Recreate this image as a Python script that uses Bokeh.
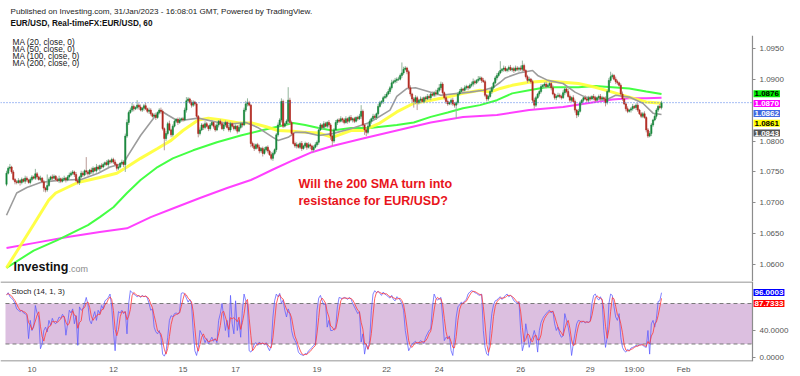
import numpy as np
import pandas as pd
from bokeh.plotting import figure
from bokeh.layouts import column
from bokeh.models import (ColumnDataSource, Range1d, LinearAxis, FixedTicker,
                          PrintfTickFormatter, Label, BoxAnnotation)
from bokeh.embed import file_html
from bokeh.resources import INLINE
from bokeh.core.properties import value

# ---------------- DATA ----------------
BASE = 1.0700            # price levels below are pips above this base
first_open_pips = 30

# hourly closes (pips above 1.0700), one list per trading session
close_pips_by_day = [
    [48, 56, 58, 50, 38, 34, 33, 36, 33, 38, 35, 40, 37, 33, 38],                                   # Jan 9
    [42, 40, 47, 42, 38, 40, 34, 24, 21, 28, 38, 42, 40, 43, 38, 36, 39, 35, 38, 40, 37, 42, 45, 48],  # Jan 10
    [50, 46, 36, 33, 42, 48, 45, 52, 50, 47, 53, 50, 56, 52, 58, 55, 60, 58, 62, 65, 62, 68, 66, 70],  # Jan 11
    [66, 62, 56, 58, 64, 66, 62, 108, 130, 146, 150, 156, 152, 154, 158, 155, 150, 153, 157, 152, 148, 150, 144, 140],  # Jan 12
    [142, 138, 146, 150, 148, 120, 104, 112, 128, 118, 110, 124, 132, 135, 130, 134, 136],          # Jan 13
    [134, 150, 165, 168, 162, 158, 163],                                                            # Jan 15
    [160, 140, 112, 118, 126, 122, 128, 124, 120, 126, 130, 124, 118, 126, 132, 128, 120, 126, 130, 122, 118, 128, 124, 120],  # Jan 16
    [124, 116, 122, 128, 126, 150, 160, 162, 158, 96, 92, 88, 94, 90, 84, 88, 80, 86, 90, 84, 78, 72, 80, 86],  # Jan 17
    [110, 126, 134, 164, 124, 128, 132, 166, 130, 112, 96, 92, 94, 90, 96, 88, 92, 96, 90, 94, 92, 86, 90, 94],  # Jan 18
    [98, 118, 126, 122, 128, 124, 130, 126, 108, 100, 118, 130, 134, 132, 136, 134, 130, 136, 132, 138, 134, 136, 132, 138],  # Jan 19
    [136, 140, 148, 126, 118, 114, 124, 132, 136, 140, 138, 144, 156, 162, 164, 170, 172],          # Jan 20
    [176, 180, 186, 194, 196, 198, 200],                                                            # Jan 22
    [200, 206, 210, 216, 218, 212, 186, 176, 168, 164, 170, 162, 166, 168, 164, 170, 168, 172, 170, 176, 174, 178, 176, 182],  # Jan 23
    [186, 192, 178, 170, 164, 160, 162, 166, 160, 158, 162, 176, 180, 184, 182, 186, 188, 186, 190, 192, 196, 194, 198, 200],  # Jan 24
    [202, 198, 196, 174, 168, 172, 180, 186, 194, 202, 206, 210, 214, 216, 218, 214, 216, 219, 215, 217, 214, 218, 216, 218],  # Jan 25
    [216, 222, 214, 204, 198, 200, 196, 166, 158, 170, 176, 180, 188, 190, 192, 188, 190, 193, 186, 176, 170, 172, 174, 172],  # Jan 26
    [170, 178, 184, 180, 172, 166, 170, 164, 150, 142, 148, 162, 166, 170, 168, 166, 170],          # Jan 27
    [168, 172, 170, 166, 170, 172, 168],                                                            # Jan 29
    [170, 168, 162, 180, 198, 204, 206, 200, 196, 194, 190, 176, 168, 160, 152, 148, 150, 152, 156, 154, 158, 150, 144, 140],  # Jan 30
    [144, 138, 118, 108, 112, 126, 134, 140, 150, 156, 154, 162],                                   # Jan 31
]

# upper / lower wick lengths in pips
wick_up_by_day = [
    [4, 3, 5, 2, 3, 2, 3, 4, 2, 3, 2, 4, 3, 2, 3],
    [3, 2, 8, 3, 2, 4, 2, 3, 2, 18, 3, 2, 4, 3, 2, 3, 5, 2, 3, 4, 2, 3, 4, 3],
    [3, 2, 4, 3, 2, 4, 3, 2, 22, 3, 2, 4, 3, 2, 5, 3, 2, 4, 3, 2, 4, 3, 2, 3],
    [3, 4, 2, 3, 2, 4, 3, 4, 5, 3, 4, 6, 3, 2, 8, 3, 4, 2, 3, 5, 2, 4, 3, 2],
    [3, 4, 2, 3, 4, 3, 2, 4, 3, 5, 2, 3, 4, 2, 3, 4, 2],
    [3, 4, 6, 3, 2, 4, 3],
    [2, 3, 2, 4, 3, 2, 4, 3, 2, 3, 4, 2, 3, 4, 2, 3, 4, 2, 3, 2, 4, 3, 2, 3],
    [3, 2, 4, 3, 2, 4, 5, 7, 3, 2, 3, 4, 2, 3, 4, 2, 3, 4, 2, 3, 2, 4, 3, 2],
    [3, 4, 3, 5, 3, 2, 3, 21, 4, 3, 2, 3, 4, 2, 3, 4, 2, 3, 2, 4, 3, 2, 3, 4],
    [3, 4, 3, 2, 4, 3, 2, 4, 3, 2, 3, 4, 2, 3, 4, 2, 3, 4, 2, 3, 4, 2, 3, 2],
    [3, 4, 10, 3, 2, 3, 4, 3, 2, 4, 3, 2, 4, 3, 2, 3, 4],
    [3, 4, 3, 5, 3, 4, 3],
    [4, 3, 17, 4, 3, 2, 3, 4, 2, 3, 4, 3, 2, 4, 3, 2, 3, 4, 3, 2, 4, 3, 5, 4],
    [6, 4, 3, 2, 4, 3, 2, 3, 4, 3, 2, 3, 4, 3, 2, 4, 3, 2, 3, 4, 5, 3, 2, 5],
    [3, 2, 4, 3, 2, 3, 4, 3, 2, 3, 4, 3, 15, 2, 4, 3, 2, 3, 4, 2, 3, 4, 3, 2],
    [4, 8, 3, 2, 3, 4, 2, 3, 4, 3, 2, 3, 4, 2, 3, 4, 3, 2, 3, 4, 2, 3, 4, 3],
    [3, 4, 2, 3, 4, 3, 2, 4, 3, 2, 4, 3, 2, 3, 4, 2, 3],
    [3, 2, 4, 3, 2, 3, 4],
    [3, 2, 4, 3, 4, 8, 3, 2, 4, 3, 2, 3, 4, 2, 3, 4, 2, 3, 4, 2, 3, 4, 2, 3],
    [3, 4, 2, 3, 4, 3, 2, 4, 3, 2, 4, 3],
]
wick_dn_by_day = [
    [3, 2, 4, 3, 2, 4, 3, 2, 5, 3, 2, 4, 3, 2, 3],
    [3, 2, 3, 4, 2, 3, 2, 6, 4, 3, 2, 3, 4, 2, 3, 2, 4, 3, 2, 3, 4, 2, 3, 2],
    [3, 4, 2, 3, 4, 2, 3, 2, 4, 3, 2, 3, 4, 2, 3, 2, 4, 3, 2, 3, 2, 4, 3, 2],
    [3, 2, 4, 3, 2, 3, 4, 12, 3, 4, 2, 3, 4, 2, 3, 4, 2, 3, 4, 2, 3, 4, 3, 2],
    [3, 4, 2, 3, 4, 3, 19, 4, 3, 2, 4, 3, 2, 3, 4, 2, 3],
    [3, 2, 4, 3, 2, 4, 3],
    [3, 4, 6, 3, 2, 4, 3, 2, 4, 3, 2, 4, 3, 2, 4, 3, 2, 4, 3, 2, 3, 4, 2, 3],
    [3, 4, 2, 3, 4, 2, 3, 4, 2, 6, 3, 4, 2, 3, 4, 3, 5, 2, 3, 4, 2, 3, 4, 3],
    [4, 3, 2, 4, 3, 2, 3, 4, 3, 4, 2, 3, 4, 2, 3, 4, 2, 3, 4, 2, 5, 3, 4, 2],
    [3, 4, 2, 3, 4, 2, 3, 4, 6, 8, 3, 2, 4, 3, 2, 4, 3, 2, 4, 3, 2, 4, 3, 2],
    [3, 2, 4, 3, 8, 6, 3, 2, 4, 3, 2, 4, 3, 2, 3, 4, 2],
    [3, 2, 4, 3, 2, 3, 4],
    [3, 2, 4, 3, 2, 4, 3, 4, 5, 10, 4, 12, 3, 4, 2, 3, 4, 2, 3, 4, 2, 3, 4, 2],
    [3, 4, 5, 3, 4, 3, 2, 4, 3, 4, 22, 3, 2, 4, 3, 2, 3, 4, 2, 3, 4, 3, 2, 3],
    [3, 4, 2, 3, 4, 3, 2, 4, 3, 2, 4, 3, 2, 3, 4, 2, 3, 4, 2, 3, 4, 2, 3, 4],
    [3, 4, 2, 3, 4, 2, 3, 4, 6, 3, 2, 4, 3, 2, 4, 3, 2, 3, 4, 2, 3, 4, 2, 3],
    [3, 2, 4, 3, 2, 4, 3, 2, 4, 5, 3, 2, 4, 3, 2, 3, 4],
    [3, 2, 4, 3, 2, 3, 4],
    [3, 2, 6, 3, 2, 4, 3, 2, 4, 3, 2, 4, 3, 2, 4, 3, 2, 4, 3, 2, 4, 3, 2, 3],
    [3, 2, 4, 3, 2, 4, 3, 2, 4, 3, 2, 3],
]

# Stochastic %K (14, 1, 3), per hourly bar
stoch_k_by_day = [
    [93, 96, 90, 88, 85, 80, 72, 70, 68, 70, 66, 65, 62, 28, 55],
    [40, 45, 77, 66, 60, 13, 20, 40, 45, 38, 55, 48, 58, 52, 50, 54, 60, 58, 64, 60, 33, 50, 70, 66],
    [72, 50, 62, 18, 75, 70, 72, 80, 89, 78, 55, 50, 60, 68, 55, 70, 65, 77, 72, 84, 86, 89, 94, 75],
    [40, 10, 47, 68, 66, 70, 65, 68, 35, 80, 99, 96, 94, 92, 90, 92, 89, 92, 90, 91, 88, 80, 70, 72],
    [45, 38, 35, 40, 30, 5, 2, 8, 30, 55, 62, 60, 65, 66, 64, 68, 95],
    [96, 94, 88, 82, 86, 80, 40],
    [10, 3, 15, 40, 35, 30, 22, 28, 20, 25, 30, 24, 28, 22, 55, 65, 80, 60, 40, 55, 30, 92, 50, 35],
    [84, 40, 55, 30, 70, 94, 84, 80, 10, 8, 12, 20, 22, 18, 23, 20, 21, 19, 22, 15, 10, 18, 60, 84],
    [94, 90, 95, 80, 85, 70, 60, 72, 65, 40, 30, 25, 20, 8, 5, 4, 3, 6, 5, 10, 12, 15, 18, 20],
    [70, 88, 92, 84, 78, 80, 45, 55, 40, 40, 42, 45, 75, 89, 88, 87, 89, 88, 86, 89, 87, 80, 75, 70],
    [65, 68, 23, 35, 5, 20, 12, 25, 70, 94, 99, 96, 98, 95, 92, 97, 94],
    [92, 90, 88, 92, 86, 84, 90],
    [88, 85, 80, 70, 40, 25, 10, 15, 20, 22, 24, 20, 22, 25, 23, 21, 30, 35, 40, 42, 75, 94, 88, 85],
    [87, 89, 60, 25, 30, 28, 32, 10, 3, 30, 60, 75, 78, 82, 80, 84, 86, 94, 97, 99, 98, 96, 95, 93],
    [92, 94, 40, 15, 5, 3, 40, 65, 78, 84, 85, 88, 90, 86, 89, 92, 94, 90, 92, 89, 84, 82, 80, 83],
    [40, 10, 20, 50, 35, 15, 25, 30, 40, 30, 8, 40, 52, 58, 62, 65, 68, 70, 66, 69, 50, 40, 45, 35],
    [30, 32, 65, 55, 45, 30, 3, 20, 35, 50, 55, 54, 52, 54, 51, 53, 52],
    [55, 80, 92, 94, 88, 85, 90],
    [84, 40, 15, 30, 80, 94, 92, 75, 60, 55, 65, 30, 15, 10, 8, 12, 10, 14, 15, 16, 18, 17, 19, 20],
    [18, 16, 15, 40, 5, 50, 55, 45, 58, 83, 84, 96],
]

# moving averages: (bar index, pips above 1.0700)
ma20_bars = [0, 6, 12, 20, 29, 36, 44, 54, 61, 69, 71, 79, 87, 91, 95, 100, 105, 113, 125, 133,
             141, 148, 157, 160, 166, 170, 176, 184, 192, 203, 214, 226, 230, 236, 241, 250, 256, 266, 273, 281,
             287, 291, 294, 302, 310, 313, 319, 328, 335, 341, 347, 353, 359, 367, 375, 381, 386]
ma20_pips = [-20, 16, 25, 33, 36, 37, 38, 48, 58, 64, 74, 109, 138, 149, 142, 134, 134, 137, 130, 128,
             130, 122, 106, 101, 106, 114, 114, 109, 112, 120, 130, 150, 172, 185, 186, 179, 174, 177, 179, 182,
             187, 195, 202, 210, 214, 206, 198, 193, 179, 171, 169, 166, 174, 171, 161, 145, 143]
ma50_bars = [0, 8, 16, 25, 29, 42, 55, 65, 71, 79, 89, 97, 104, 113, 119, 127, 137, 145, 153, 160,
             169, 176, 184, 192, 203, 210, 220, 230, 240, 250, 260, 269, 279, 285, 291, 298, 308, 318, 328, 337,
             347, 357, 367, 377, 386]
ma50_pips = [-105, -70, -35, 5, 16, 33, 41, 48, 58, 72, 88, 101, 117, 134, 137, 134, 129, 129, 123, 117,
             116, 114, 113, 106, 117, 117, 129, 147, 161, 166, 171, 177, 182, 179, 185, 190, 195, 197, 195, 193,
             187, 179, 171, 163, 161]
ma100_bars = [0, 16, 30, 36, 48, 55, 63, 71, 79, 89, 98, 110, 124, 138, 150, 169, 176, 184, 192, 203,
              214, 230, 240, 250, 260, 269, 279, 289, 298, 308, 318, 337, 347, 357, 367, 377, 386]
ma100_pips = [-105, -77, -60, -52, -36, -23, -7, 16, 37, 58, 72, 85, 98, 109, 117, 129, 126, 121, 117, 121,
              121, 126, 130, 139, 146, 153, 158, 166, 177, 182, 187, 187, 189, 187, 185, 180, 176]
ma200_bars = [0, 16, 36, 55, 71, 85, 98, 114, 130, 144, 157, 169, 180, 192, 210, 230, 250, 269, 289, 308,
              328, 347, 357, 367, 377, 386]
ma200_pips = [-73, -65, -55, -47, -41, -23, -9, 8, 24, 37, 54, 69, 82, 92, 104, 117, 130, 139, 142, 150,
              155, 163, 167, 169, 169, 170]

last_price = 1.0862
price_ticks = [1.0600, 1.0650, 1.0700, 1.0750, 1.0800, 1.0900, 1.0950]
price_badge_texts = ["1.0876", "1.0870", "1.0862", "1.0861", "1.0843"]
stoch_ticks = [0, 40]
stoch_band = [20, 80]
stoch_badge_texts = ["96.0003", "87.7333"]
date_tick_bars = [15, 63, 104, 135, 183, 224, 255, 303, 344, 370, 399]
date_tick_labels = ["10", "12", "15", "17", "19", "22", "24", "26", "29", "19:00", "Feb"]

header_line1 = "Published on Investing.com, 31/Jan/2023 - 16:08:01 GMT, Powered by TradingView."
header_line2 = "EUR/USD, Real-timeFX:EUR/USD, 60"
ma_legend = ["MA (20, close, 0)", "MA (50, close, 0)", "MA (100, close, 0)", "MA (200, close, 0)"]
note_lines = ["Will the 200 SMA turn into", "resistance for EUR/USD?"]
stoch_title = "Stoch (14, 1, 3)"

# ---------------- BUILD ----------------
for a, b, c, d in zip(close_pips_by_day, wick_up_by_day, wick_dn_by_day, stoch_k_by_day):
    assert len(a) == len(b) == len(c) == len(d), (len(a), len(b), len(c), len(d))

close_p = np.concatenate([np.array(d, float) for d in close_pips_by_day])
wup = np.concatenate([np.array(d, float) for d in wick_up_by_day])
wdn = np.concatenate([np.array(d, float) for d in wick_dn_by_day])
stoch_k = np.concatenate([np.array(d, float) for d in stoch_k_by_day])
open_p = np.concatenate([[first_open_pips], close_p[:-1]])
n = len(close_p)
idx = np.arange(n)

pip = 1e-4
opens = BASE + open_p * pip
closes = BASE + close_p * pip
highs = BASE + (np.maximum(open_p, close_p) + wup) * pip
lows = BASE + (np.minimum(open_p, close_p) - wdn) * pip
up = closes >= opens
UP_COL, DN_COL = "#16873a", "#b3261e"
src = ColumnDataSource(dict(
    x=idx, top=np.maximum(opens, closes), bottom=np.minimum(opens, closes),
    high=highs, low=lows,
    color=[UP_COL if u else DN_COL for u in up],
    wick=["#93b49b" if u else "#b99a96" for u in up],
))

stoch_d = pd.Series(stoch_k).rolling(3, min_periods=1).mean().to_numpy()

FONT = "Liberation Sans"
X0, X1 = -3.54, 467.9          # full 800 px canvas width in bar units
AXIS_X = 439.6                 # bar position of the right price axis
xr = Range1d(X0, X1)

P_LO, P_HI = 1.05730, 1.10271
S_LO, S_HI = -5.93, 112.6

# ---- price pane ----
p = figure(frame_width=800, frame_height=281, x_range=xr, y_range=Range1d(P_LO, P_HI),
           output_backend="svg", toolbar_location=None, min_border=0,
           x_axis_location=None, y_axis_location=None)
p.outline_line_color = None
p.xgrid.visible = False
p.ygrid.visible = False

def axis_style(ax):
    ax.axis_line_color = "#8c8c8c"
    ax.axis_line_width = 1.2
    ax.major_tick_line_color = "#8c8c8c"
    ax.minor_tick_line_color = None
    ax.major_tick_in = 0
    ax.major_tick_out = 3
    ax.major_label_text_font = FONT
    ax.major_label_text_font_size = "8px"
    ax.major_label_text_color = "#555555"
    ax.major_label_standoff = 4

yax = LinearAxis(ticker=FixedTicker(ticks=price_ticks), formatter=PrintfTickFormatter(format="%.4f"),
                 fixed_location=AXIS_X)
axis_style(yax)
yax.axis_line_color = None
p.add_layout(yax, "right")
p.segment(x0=[AXIS_X], y0=[1.0970], x1=[AXIS_X], y1=[P_LO], line_color="#8c8c8c", line_width=1.2)

def ma_y(pips):
    return [BASE + v * pip for v in pips]

p.line(ma200_bars, ma_y(ma200_pips), line_color="#ff40ff", line_width=2)
p.line(ma100_bars, ma_y(ma100_pips), line_color="#44ff44", line_width=2)
p.line(ma50_bars, ma_y(ma50_pips), line_color="#ffff33", line_width=3, line_alpha=0.9)
p.line(ma20_bars, ma_y(ma20_pips), line_color="#9c9c9c", line_width=1.6)

p.segment(x0="x", y0="low", x1="x", y1="high", source=src, line_color="wick", line_width=1)
p.vbar(x="x", width=0.72, top="top", bottom="bottom", source=src,
       fill_color="color", line_color="color", line_width=0.6)

p.segment(x0=[X0], y0=[last_price], x1=[AXIS_X], y1=[last_price], line_color="#4a7bea",
          line_dash="1 2", line_width=1)

def lab(fig, x, y, t, size, color="#222222", style="normal", **kw):
    fig.add_layout(Label(x=x, y=y, x_units="screen", y_units="screen", text=t, text_font=FONT,
                         text_font_size=size, text_font_style=style, text_color=color, **kw))

# header texts (screen y measured from bottom of the 281 px price pane)
lab(p, 10, 266, header_line1, "8.1px")
lab(p, 10, 254, header_line2, "8.2px", "#111111", "bold")
for i, t in enumerate(ma_legend):
    lab(p, 12, 235 - 7 * i, t, "8.3px")

for i, t in enumerate(note_lines):
    lab(p, 298, 91 - 17 * i, t, "12.5px", "#e8141b", "bold")

lab(p, 13, 8, "Investing", "12.5px", "#111111", "bold")
lab(p, 68, 8, ".com", "9px", "#8a8a8a")

badge_styles = [("#00ee00", "#000000"), ("#ff00ff", "#ffffff"), ("#4169e1", "#ffffff"),
                ("#ffff00", "#000000"), ("#555555", "#ffffff")]
for i, (t, (bg, fg)) in enumerate(zip(price_badge_texts, badge_styles)):
    lab(p, 753, 187.7 - 9.8 * i, t, "8px", fg, "bold", text_baseline="middle",
        background_fill_color=bg, padding=1)

# ---- stochastic pane ----
s = figure(frame_width=800, frame_height=80, x_range=xr, y_range=Range1d(S_LO, S_HI),
           output_backend="svg", toolbar_location=None, min_border=0, min_border_bottom=15,
           x_axis_location=None, y_axis_location=None)
s.outline_line_color = None
s.xgrid.visible = False
s.ygrid.visible = False

s.add_layout(BoxAnnotation(bottom=stoch_band[0], top=stoch_band[1], left=-0.6, right=AXIS_X,
                           fill_color="#dcbfe0", fill_alpha=1.0, line_color=None, level="underlay"))
s.segment(x0=[-0.6, -0.6], y0=stoch_band, x1=[AXIS_X, AXIS_X], y1=stoch_band,
          line_color="#7a7a7a", line_dash="4 3", line_width=1)
s.segment(x0=[X0], y0=[S_HI - 0.8], x1=[AXIS_X], y1=[S_HI - 0.8], line_color="#a0a0a0", line_width=1.5)
s.segment(x0=[X0], y0=[S_LO + 0.8], x1=[AXIS_X], y1=[S_LO + 0.8], line_color="#a0a0a0", line_width=1.5)

s.line(idx, stoch_k, line_color="#5c5cff", line_width=0.9, line_alpha=0.85)
s.line(idx, stoch_d, line_color="#ff3a3a", line_width=0.9, line_alpha=0.9)

sax = LinearAxis(ticker=FixedTicker(ticks=stoch_ticks), formatter=PrintfTickFormatter(format="%.4f"),
                 fixed_location=AXIS_X)
axis_style(sax)
s.add_layout(sax, "right")

xax = LinearAxis(ticker=FixedTicker(ticks=date_tick_bars),
                 major_label_overrides={b: l for b, l in zip(date_tick_bars, date_tick_labels)})
axis_style(xax)
xax.axis_line_color = None
xax.major_tick_out = 0
xax.major_label_standoff = 3
s.add_layout(xax, "below")

lab(s, 11, 70, stoch_title, "7.8px", text_baseline="middle")

stoch_badge_styles = [("#0000ff", "#ffffff"), ("#ff0000", "#ffffff")]
for i, (t, (bg, fg)) in enumerate(zip(stoch_badge_texts, stoch_badge_styles)):
    lab(s, 753, 69 - 11 * i, t, "8px", fg, "bold", text_baseline="middle",
        background_fill_color=bg, padding=1)

layout = column(p, s, spacing=0)
open("out.html", "w").write(file_html(layout, INLINE))
